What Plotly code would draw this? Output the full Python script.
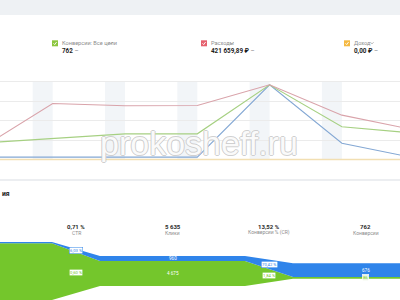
import plotly.graph_objects as go

# ---------------- data ----------------
days = [0, 1, 2, 3, 4, 5, 6]
conv_idx = [21, 27, 33, 33, 96, 42, 34]        # conversions, % of period max
cost_idx = [14, 72, 69, 69.5, 96, 57, 38]      # cost, % of period max
seg_idx = [3, 3, 3, 3, 96, 21, 2]              # 4th metric, % of period max
income_idx = [0, 0, 0, 0, 0, 0, 0]             # income
weekend_days = [1, 2, 3, 4, 5]

kpi_labels = ["Конверсии: Все цели", "Расходы", "Доход"]
kpi_values = ["762", "421 659,89 ₽", "0,00 ₽"]
kpi_colors = ["#8cc63f", "#e5616e", "#f5b942"]

stage_labels = ["CTR", "Клики", "Конверсии % (CR)", "Конверсии"]
seg_ctr = [6.03, 0.60]          # blue, green segments, %
seg_clicks = [960, 4675]
seg_conv = [676, 86]
section_title = "ия"
watermark = "prokosheff.ru"

# ---------------- helpers ----------------
W, H = 400, 300
def px(x): return x / W
def py(y): return 1 - y / H
def fint(n): return f"{int(round(n)):,}".replace(",", " ")
def fpct(p): return f"{p:.2f}".replace(".", ",") + " %"

FONT = "Roboto, 'Open Sans', sans-serif"
BLUE, GREEN = "#2f84ea", "#74c62c"

seg_impr = [c / (r / 100) for c, r in zip(seg_clicks, seg_ctr)]
tot_impr = sum(seg_impr)
tot_clicks = sum(seg_clicks)
tot_conv = sum(seg_conv)
tot_ctr = tot_clicks / tot_impr * 100
tot_cr = tot_conv / tot_clicks * 100
seg_cr = [v / c * 100 for v, c in zip(seg_conv, seg_clicks)]

fig = go.Figure()

# ---------------- line chart ----------------
line_specs = [
    (income_idx, "#f2dfb2", 1.6),
    (seg_idx, "#84a8d4", 1.1),
    (conv_idx, "#a6d082", 1.1),
    (cost_idx, "#d9a3aa", 1.1),
]
for vals, col, w in line_specs:
    fig.add_trace(go.Scatter(x=days, y=vals, mode="lines", xaxis="x", yaxis="y",
                             line=dict(color=col, width=w), hoverinfo="skip",
                             showlegend=False))

shapes = []
BAND = 0.2766
for d in weekend_days:
    shapes.append(dict(type="rect", xref="x", yref="y", x0=d - BAND, x1=d, y0=0, y1=100,
                       fillcolor="#f2f5f8", line=dict(width=0), layer="below"))
# top gray strip & separator
shapes.append(dict(type="rect", xref="paper", yref="paper", x0=0, x1=1, y0=py(15), y1=1,
                   fillcolor="#eef1f4", line=dict(width=0), layer="below"))
shapes.append(dict(type="rect", xref="paper", yref="paper", x0=0, x1=1, y0=py(181), y1=py(179),
                   fillcolor="#eceef1", line=dict(width=0), layer="below"))

annotations = []
# KPI legend
kpi_x = [52, 201, 344]
for i, (lab, val, col) in enumerate(zip(kpi_labels, kpi_values, kpi_colors)):
    bx = kpi_x[i]
    shapes.append(dict(type="rect", xref="paper", yref="paper", x0=px(bx), x1=px(bx + 6),
                       y0=py(46.3), y1=py(40.3), fillcolor=col, line=dict(width=0)))
    shapes.append(dict(type="path", xref="paper", yref="paper",
                       path=f"M {px(bx+1.5)},{py(43.3)} L {px(bx+2.7)},{py(44.6)} L {px(bx+4.6)},{py(42)}",
                       line=dict(color="white", width=0.9)))
    tx = bx + 8
    annotations.append(dict(x=px(tx), y=py(43.2), xref="paper", yref="paper", text=lab,
                            showarrow=False, xanchor="left", yanchor="middle",
                            font=dict(family=FONT, size=5.6, color="#8c8c8c")))
    annotations.append(dict(x=px(tx), y=py(51.5), xref="paper", yref="paper",
                            text=f"<b>{val}</b> <span style='color:#888'>–</span>",
                            showarrow=False, xanchor="left", yanchor="middle",
                            font=dict(family=FONT, size=6.3, color="#1e1e1e")))
chev_x = [111, 232, 372]
for cx in chev_x:
    shapes.append(dict(type="path", xref="paper", yref="paper",
                       path=f"M {px(cx-1.5)},{py(42.3)} L {px(cx)},{py(43.8)} L {px(cx+1.5)},{py(42.3)}",
                       line=dict(color="#999", width=0.8)))

# watermark
annotations.append(dict(x=px(199), y=py(143), xref="paper", yref="paper", text=watermark,
                        showarrow=False, xanchor="center", yanchor="middle",
                        font=dict(family="'Liberation Sans', sans-serif", size=34, color="rgba(255,255,255,0.92)",
                                  shadow="1px 0 0 #cccccc, -1px 0 0 #cccccc, 0 1px 0 #cccccc, 0 -1px 0 #cccccc")))

# section title (only its tail is visible at the left edge)
annotations.append(dict(x=px(0), y=py(194), xref="paper", yref="paper", text=f"<b>{section_title}</b>",
                        showarrow=False, xanchor="left", yanchor="middle",
                        font=dict(family=FONT, size=6.8, color="#222")))

# ---------------- funnel ----------------
STAGE_H = [58, 30, 15.5]
HW = 72.5 / 193
blue_frac = [seg_impr[0] / tot_impr, seg_clicks[0] / tot_clicks, seg_conv[0] / tot_conv]
T = [h / 2 for h in STAGE_H]
B = [-h / 2 for h in STAGE_H]
M = [t - f * h for t, f, h in zip(T, blue_frac, STAGE_H)]
xs = []
for i in range(3):
    xs += [i - HW, i + HW]
def rep(v):
    out = []
    for a in v:
        out += [a, a]
    return out
Tt, Mm, Bb = rep(T), rep(M), rep(B)
fig.add_trace(go.Scatter(x=xs + xs[::-1], y=Mm + Bb[::-1], fill="toself", mode="lines",
                         line=dict(width=0), fillcolor=GREEN, xaxis="x2", yaxis="y2",
                         hoverinfo="skip", showlegend=False))
fig.add_trace(go.Scatter(x=xs + xs[::-1], y=Tt + Mm[::-1], fill="toself", mode="lines",
                         line=dict(width=0), fillcolor=BLUE, xaxis="x2", yaxis="y2",
                         hoverinfo="skip", showlegend=False))

# stage headers
head_vals = [fpct(tot_ctr), fint(tot_clicks), fpct(tot_cr), fint(tot_conv)]
head_u = [0.5, 1, 1.5, 2]
for u, v, lab in zip(head_u, head_vals, stage_labels):
    annotations.append(dict(x=u, y=py(226.8), xref="x2", yref="paper", text=f"<b>{v}</b>",
                            showarrow=False, xanchor="center", yanchor="middle",
                            font=dict(family=FONT, size=6, color="#2a2a2a")))
    annotations.append(dict(x=u, y=py(232.8), xref="x2", yref="paper", text=lab,
                            showarrow=False, xanchor="center", yanchor="middle",
                            font=dict(family=FONT, size=5, color="#8c8c8c")))

# labels in transitions (boxed)
for i, (bl, gl) in enumerate([(seg_ctr[0], seg_ctr[1]), (seg_cr[0], seg_cr[1])]):
    u = i + 0.5
    yb = ((T[i] + T[i + 1]) / 2 + (M[i] + M[i + 1]) / 2) / 2
    yg = ((M[i] + M[i + 1]) / 2 + (B[i] + B[i + 1]) / 2) / 2
    for yy, txt, col in [(yb, fpct(bl), BLUE), (yg, fpct(gl), GREEN)]:
        annotations.append(dict(x=u, y=yy, xref="x2", yref="y2", text=txt, showarrow=False,
                                bgcolor="white", borderpad=0.6, bordercolor=col, borderwidth=0.5,
                                font=dict(family=FONT, size=4.2, color=col)))
# labels in columns
col_vals = [(seg_clicks[0], seg_clicks[1]), (seg_conv[0], seg_conv[1])]
for k, (bv, gv) in enumerate(col_vals):
    i = k + 1
    yb = (T[i] + M[i]) / 2
    yg = (M[i] + B[i]) / 2
    annotations.append(dict(x=i, y=yb, xref="x2", yref="y2", text=fint(bv), showarrow=False,
                            font=dict(family=FONT, size=4.6, color="white")))
    if i == 2:
        annotations.append(dict(x=i, y=yg, xref="x2", yref="y2", text=fint(gv), showarrow=False,
                                bgcolor="#eaf6df", borderpad=0.4, bordercolor="white", borderwidth=0.6,
                                font=dict(family=FONT, size=4.2, color=GREEN)))
    else:
        annotations.append(dict(x=i, y=yg, xref="x2", yref="y2", text=fint(gv), showarrow=False,
                                font=dict(family=FONT, size=4.6, color="white")))

fig.update_layout(
    width=W, height=H, autosize=False,
    margin=dict(l=0, r=0, t=0, b=0),
    paper_bgcolor="white", plot_bgcolor="rgba(0,0,0,0)",
    showlegend=False,
    xaxis=dict(domain=[0, 1], range=[(0 + 19.6) / 72.3, (400 + 19.6) / 72.3], visible=False,
               fixedrange=True),
    yaxis=dict(domain=[py(163.4), py(77.8)], range=[-5, 105], tickvals=[0, 25, 50, 75, 100],
               showticklabels=False, gridcolor="#ebebeb", gridwidth=1, zeroline=False,
               showline=False, fixedrange=True),
    xaxis2=dict(domain=[0, 1], range=[20.5 / 193, 420.5 / 193], visible=False, anchor="y2"),
    yaxis2=dict(domain=[0, py(235)], range=[-29, 36], visible=False, anchor="x2"),
    shapes=shapes,
    annotations=annotations,
)

fig.write_html("out.html")
